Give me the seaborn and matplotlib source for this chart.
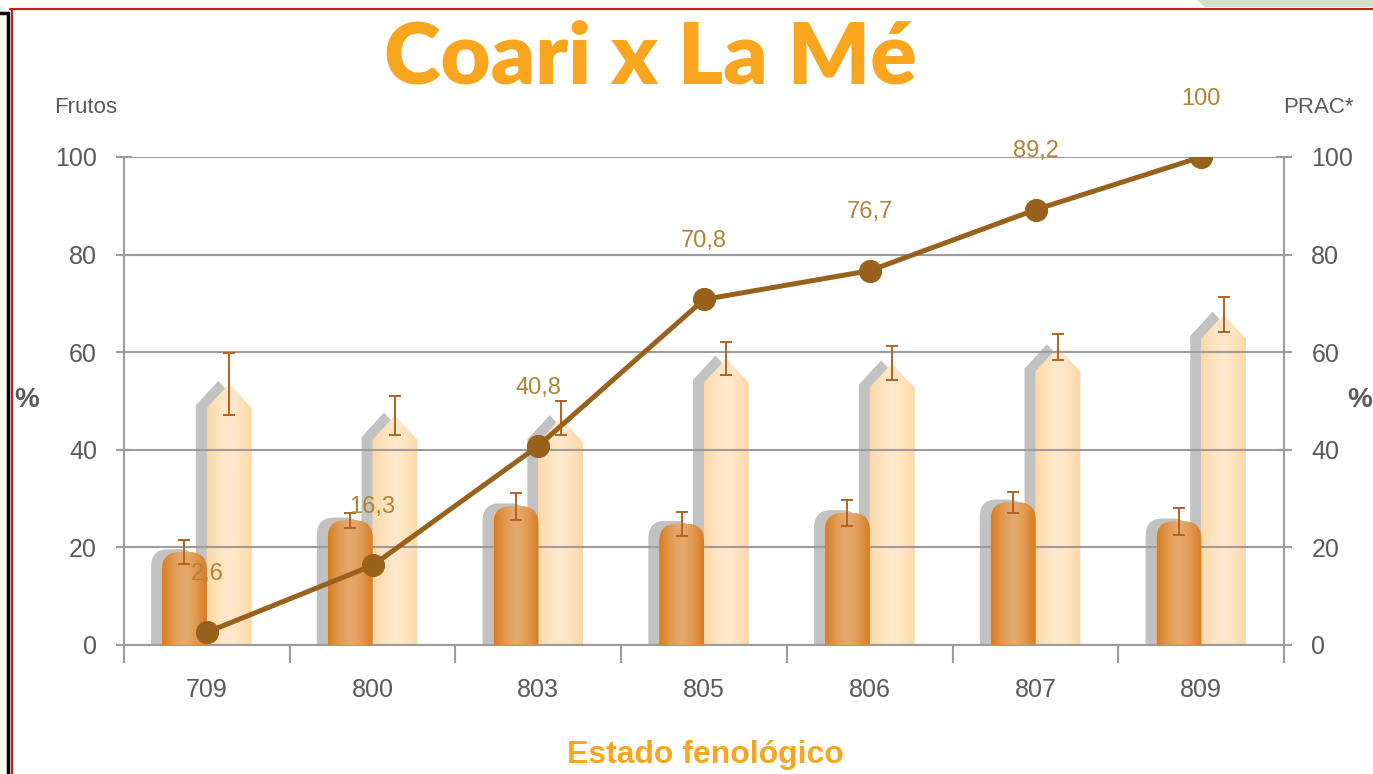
import numpy as np
import pandas as pd
import seaborn as sns
import matplotlib.pyplot as plt
from matplotlib.path import Path
from matplotlib.patches import PathPatch, Polygon
from matplotlib.lines import Line2D
from matplotlib.colors import to_rgb
from matplotlib import transforms

# ---- data ----
estados = ["709", "800", "803", "805", "806", "807", "809"]
frutos = [19.0, 25.5, 28.4, 24.8, 27.0, 29.2, 25.3]
frutos_err = [2.5, 1.5, 2.7, 2.5, 2.7, 2.2, 2.7]
prac_barra = [53.5, 47.0, 46.5, 58.7, 57.7, 61.0, 67.7]
prac_barra_err = [6.4, 4.0, 3.5, 3.4, 3.5, 2.7, 3.6]
prac_linha = [2.6, 16.3, 40.8, 70.8, 76.7, 89.2, 100]
prac_rotulos = ["2,6", "16,3", "40,8", "70,8", "76,7", "89,2", "100"]
yticks = [0, 20, 40, 60, 80, 100]

# colours
escuro = "#de8d3e"
escuro_borda, escuro_meio = "#d97c1f", "#e4a96c"
claro = "#fee0b8"
claro_borda, claro_meio = "#fdd8a6", "#ffe8cb"
sombra = "#c2c2c2"
erro_cor = "#b4621f"
linha_cor = "#99621c"
rotulo_cor = "#ad8436"
tick_cor = "#5a5a5a"
laranja = "#f9a61e"
grade = "#9c9c9c"

sns.set_theme(style="white")
plt.rcParams['font.family'] = ['Liberation Sans', 'DejaVu Sans']

df = pd.DataFrame({
    "estado": estados * 2,
    "valor": frutos + prac_barra,
    "serie": ["Frutos"] * len(estados) + ["PRAC"] * len(estados),
})

fig = plt.figure(figsize=(13.73, 7.74), dpi=100)
ax = fig.add_axes([0.0903, 0.1667, 0.845, 0.6305])

sns.barplot(data=df, x="estado", y="valor", hue="serie", palette=[escuro, claro],
            width=0.54, errorbar=None, legend=False, ax=ax)

bars = list(ax.patches)
n = len(estados)
dark_bars, light_bars = bars[:n], bars[n:]

# shadow offset (left and slightly up)
shadow_tr = ax.transData + transforms.ScaledTranslation(-11 / 100, 3 / 100, fig.dpi_scale_trans)


def rounded_path(x0, w, h, rx, ry, base=0):
    verts = [(x0, base), (x0, h - ry), (x0, h), (x0 + rx, h), (x0 + w - rx, h),
             (x0 + w, h), (x0 + w, h - ry), (x0 + w, base), (x0, base)]
    codes = [Path.MOVETO, Path.LINETO, Path.CURVE3, Path.CURVE3, Path.LINETO,
             Path.CURVE3, Path.CURVE3, Path.LINETO, Path.CLOSEPOLY]
    return Path(verts, codes)


def pointed_path(x0, w, h, d, base=0):
    verts = [(x0, base), (x0, h - d), (x0 + w / 2, h), (x0 + w, h - d), (x0 + w, base), (x0, base)]
    codes = [Path.MOVETO, Path.LINETO, Path.LINETO, Path.LINETO, Path.LINETO, Path.CLOSEPOLY]
    return Path(verts, codes)


def gradiente(borda, meio):
    t = np.abs(np.linspace(-1, 1, 64)) ** 1.5
    b, m = np.array(to_rgb(borda)), np.array(to_rgb(meio))
    return (m[None, :] * (1 - t[:, None]) + b[None, :] * t[:, None])[None, :, :]


def desenha(b, path_fn, borda, meio, z):
    x0, w, h = b.get_x(), b.get_width(), b.get_height()
    b.set_visible(False)
    ax.add_patch(PathPatch(path_fn(x0, w, h, base=-4), fc=sombra, ec="none",
                           transform=shadow_tr, zorder=0.5))
    patch = PathPatch(path_fn(x0, w, h), fc=meio, ec="none", zorder=z)
    ax.add_patch(patch)
    im = ax.imshow(gradiente(borda, meio), extent=(x0, x0 + w, 0, h), aspect="auto",
                   origin="lower", zorder=z + 0.1, interpolation="bilinear")
    im.set_clip_path(patch)


for b in light_bars:
    desenha(b, lambda x0, w, h, base=0: pointed_path(x0, w, h, 5.0, base), claro_borda, claro_meio, 2)
for b in dark_bars:
    desenha(b, lambda x0, w, h, base=0: rounded_path(x0, w, h, 0.1, 3.6, base), escuro_borda, escuro_meio, 3)

# error bars at bar centres
for grupo, vals, errs in [(dark_bars, frutos, frutos_err), (light_bars, prac_barra, prac_barra_err)]:
    cx = [b.get_x() + b.get_width() / 2 for b in grupo]
    ax.errorbar(cx, vals, yerr=errs, fmt="none", ecolor=erro_cor, elinewidth=1.4,
                capsize=4.5, capthick=1.4, zorder=4)

# PRAC line
sns.pointplot(x=estados, y=prac_linha, color=linha_cor, markers="o", markersize=14,
              linewidth=3.6, errorbar=None, ax=ax)
for line in ax.lines:
    line.set_zorder(6)

for i, (v, lab) in enumerate(zip(prac_linha, prac_rotulos)):
    ax.annotate(lab, (i, v), xytext=(0, 42), textcoords="offset points", ha="center",
                va="center", color=rotulo_cor, fontsize=17, zorder=7)

ax.set_xlim(-0.5, n - 0.5)
ax.set_ylim(0, 100)
ax.set_yticks(yticks)
ax.set_xlabel("")
ax.set_ylabel("")

ax.yaxis.grid(True, color=grade, lw=1.5, zorder=1)
ax.set_axisbelow(False)
for gl in ax.get_ygridlines():
    gl.set_zorder(1)

ax.spines["top"].set_visible(False)
for s in ["left", "right", "bottom"]:
    ax.spines[s].set_visible(True)
    ax.spines[s].set_color(grade)
    ax.spines[s].set_linewidth(1.5)

ax.tick_params(axis="y", which="major", left=True, right=True, labelleft=True, labelright=True,
               direction="inout", length=11, width=1.5, color=grade, labelsize=18,
               labelcolor=tick_cor, pad=14)
ax.set_xticks(np.arange(-0.5, n, 1.0), minor=True)
ax.tick_params(axis="x", which="major", length=0, labelsize=18, labelcolor=tick_cor, pad=24)
ax.tick_params(axis="x", which="minor", bottom=True, direction="out", length=13, width=1.5,
               color=grade)

# texts
fig.text(0.474, 0.925, "Coari x La Mé", ha="center", va="center", color=laranja,
         fontsize=62, fontweight="heavy", family=["Lato", "DejaVu Sans"])
fig.text(0.062, 0.8605, "Frutos", ha="center", va="center", color=tick_cor, fontsize=16)
fig.text(0.96, 0.8605, "PRAC*", ha="center", va="center", color=tick_cor, fontsize=16)
fig.text(0.0197, 0.483, "%", ha="center", va="center", color=tick_cor, fontsize=20, fontweight="bold")
fig.text(0.999, 0.483, "%", ha="right", va="center", color=tick_cor, fontsize=20, fontweight="bold")
fig.text(0.5135, 0.0245, "Estado fenológico", ha="center", va="center", color=laranja,
         fontsize=23, fontweight="bold")

# page frame bits
fig.add_artist(Line2D([10 / 1373, 1], [1 - 9 / 774, 1 - 9 / 774], color="#cc1a1a", lw=1.5))
fig.add_artist(Line2D([12 / 1373, 12 / 1373], [0, 1 - 9 / 774], color="#cc1a1a", lw=1.5))
fig.add_artist(Line2D([8 / 1373, 8 / 1373], [0, 1 - 13 / 774], color="black", lw=2.5))
fig.add_artist(Line2D([0, 8 / 1373], [1 - 13 / 774, 1 - 13 / 774], color="black", lw=2.5))
fig.add_artist(Polygon([[1197 / 1373, 1], [1, 1], [1, 1 - 7 / 774], [1205 / 1373, 1 - 7 / 774]],
                       closed=True, fc="#d3dfcb", ec="none", transform=fig.transFigure))

fig.savefig("out.png", dpi=100)
